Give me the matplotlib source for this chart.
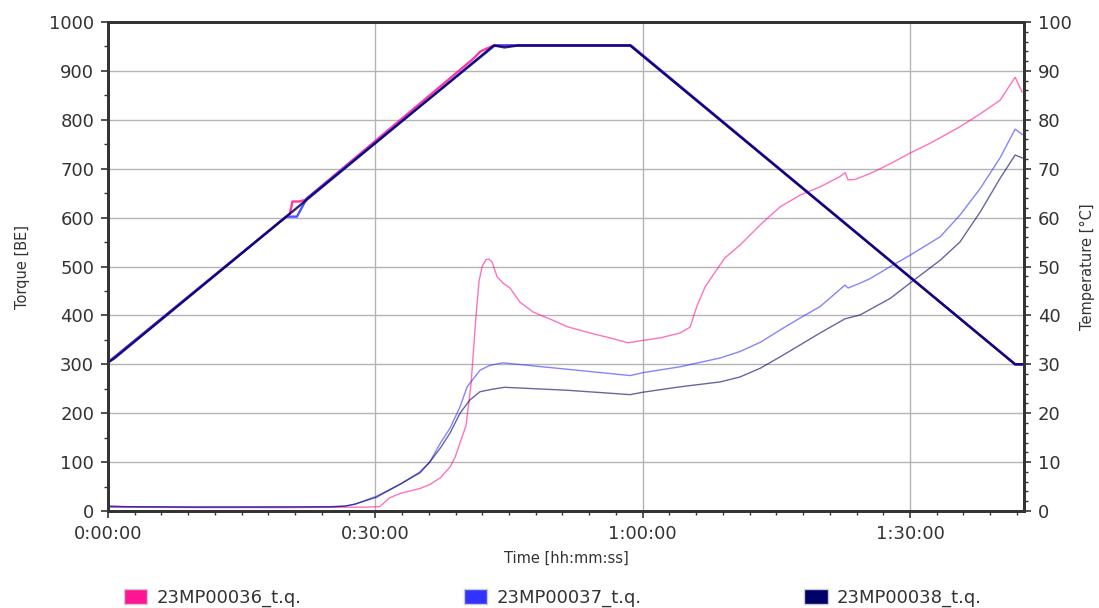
import matplotlib
matplotlib.use("Agg")
import matplotlib.pyplot as plt
from matplotlib.patches import Patch
from matplotlib.ticker import MultipleLocator, FuncFormatter

# series names and colours
names = ["23MP00036_t.q.", "23MP00037_t.q.", "23MP00038_t.q."]
colors = ["#ff1493", "#3333ff", "#000066"]

# torque [BE], time in minutes
t36 = [0, 10, 20, 29, 30.5, 31.6, 32.8, 35.0, 36.1, 37.3, 38.38, 38.95, 39.51, 40.18,
       40.74, 41.30, 41.64, 41.98, 42.42, 42.76, 43.10, 43.66, 44.33, 45.12, 46.24,
       47.70, 49.94, 51.52, 54.10, 56.34, 58.36, 60.04, 61.95, 64.20, 65.32, 66.11,
       67.00, 68.13, 69.25, 70.93, 73.18, 75.42, 77.67, 79.91, 82.15, 82.72, 83.05,
       83.84, 85.52, 87.77, 90.01, 92.26, 95.62, 97.87, 100.11, 101.80, 102.58]
q36 = [8, 7, 7, 8, 9, 27, 36, 46, 54, 68, 90, 110, 140, 175,
       260, 400, 470, 500, 514, 515, 509, 479, 466, 456, 427,
       407, 390, 377, 364, 354, 344, 349, 354, 364, 376, 420,
       458, 489, 518, 544, 585, 622, 646, 663, 684, 692, 677,
       678, 690, 710, 732, 752, 786, 812, 840, 887, 857]

t37 = [0, 2, 10, 20, 24.9, 26.6, 27.7, 30.1, 32.8, 35.0, 36.1, 37.3, 38.4, 39.5,
       40.3, 41.75, 42.87, 44.33, 51.5, 58.6, 60.04, 64.2, 68.7, 70.9, 73.2, 75.4,
       77.7, 79.9, 82.7, 83.05, 84.4, 85.5, 87.8, 90.0, 93.4, 95.6, 97.9, 100.1,
       101.8, 102.6]
q37 = [11, 9, 8.5, 8.5, 9, 10, 14, 30, 55, 80, 100, 139, 170, 213,
       254, 288, 298, 303, 290, 277, 283, 295, 313, 326, 345, 370,
       395, 418, 462, 456, 466, 475, 500, 523, 561, 605, 660, 722,
       781, 770]

t38 = [0, 10, 24.9, 26.6, 27.7, 30.1, 32.8, 35.0, 36.1, 37.3, 38.4, 39.5, 40.6,
       41.75, 43.1, 44.5, 51.5, 58.6, 60.04, 64.2, 68.7, 70.9, 73.2, 75.4, 77.7,
       79.9, 82.7, 84.4, 87.8, 90.0, 93.4, 95.6, 97.9, 100.1, 101.8, 102.6]
q38 = [9, 8, 8.5, 10, 14, 28, 55, 78, 100, 129, 160, 200, 227,
       244, 249, 253, 247, 238, 243, 254, 264, 274, 292, 315, 340,
       364, 393, 401, 435, 466, 513, 550, 612, 680, 728, 722]

# temperature [°C]
tt36 = [0, 20.4, 20.7, 21.5, 22.1, 41.0, 41.8, 43.3, 58.6, 101.8, 102.6]
temp36 = [30.4, 60.8, 63.3, 63.3, 63.6, 92.5, 94.0, 95.2, 95.2, 30.0, 30.0]
tt37 = [0, 20.0, 21.2, 22.3, 43.4, 58.7, 101.8, 102.6]
temp37 = [30.4, 60.2, 60.2, 63.9, 95.2, 95.2, 30.0, 30.0]
tt38 = [0, 0.7, 43.3, 44.5, 46.0, 58.6, 101.8, 102.6]
temp38 = [30.4, 31.2, 95.2, 94.8, 95.2, 95.2, 30.0, 30.0]

torque_t = [t36, t37, t38]
torque_v = [q36, q37, q38]
temp_t = [tt36, tt37, tt38]
temp_v = [temp36, temp37, temp38]


def hms(x, pos):
    s = int(round(x * 60))
    return "%d:%02d:%02d" % (s // 3600, (s % 3600) // 60, s % 60)


fig = plt.figure(figsize=(10.99, 6.08), dpi=100)
ax = fig.add_axes([0.0983, 0.1595, 0.8335, 0.8043])
ax2 = ax.twinx()

for tx, vals, c in zip(torque_t, torque_v, colors):
    ax.plot(tx, vals, color=c, lw=1.0, alpha=0.6)
for tx, vals, c in zip(temp_t, temp_v, colors):
    ax2.plot(tx, vals, color=c, lw=1.7, alpha=0.85)

ax.set_xlim(0, 102.8)
ax.set_ylim(0, 1000)
ax2.set_ylim(0, 100)

ax.xaxis.set_major_locator(MultipleLocator(30))
ax.xaxis.set_minor_locator(MultipleLocator(3))
ax.xaxis.set_major_formatter(FuncFormatter(hms))
ax.yaxis.set_major_locator(MultipleLocator(100))
ax.yaxis.set_minor_locator(MultipleLocator(50))
ax2.yaxis.set_major_locator(MultipleLocator(10))
ax2.yaxis.set_minor_locator(MultipleLocator(2))

ax.grid(True, which="major", color="#b4b4b4", lw=1)
ax.set_axisbelow(True)

for a in (ax, ax2):
    for sp in a.spines.values():
        sp.set_color("#333333")
        sp.set_linewidth(2)
    a.tick_params(which="major", length=5, width=1.2, color="#333333",
                  labelsize=13, labelcolor="#333333", pad=5)
    a.tick_params(which="minor", length=3, width=1, color="#333333")

ax.set_xlabel("Time [hh:mm:ss]", fontsize=10.5, color="#333333", labelpad=6)
ax.set_ylabel("Torque [BE]", fontsize=10.5, color="#333333", labelpad=14)
ax2.set_ylabel("Temperature [°C]", fontsize=10.5, color="#333333", labelpad=6)

handles = [Patch(facecolor=c, edgecolor="#cccccc", lw=1) for c in colors]
fig.legend(handles, names, loc="center", bbox_to_anchor=(0.503, 0.017), ncol=3,
           frameon=False, fontsize=13, handlelength=1.3, handleheight=0.9,
           handletextpad=0.5, columnspacing=9.0, labelcolor="#333333")

fig.savefig("out.png", dpi=100)
